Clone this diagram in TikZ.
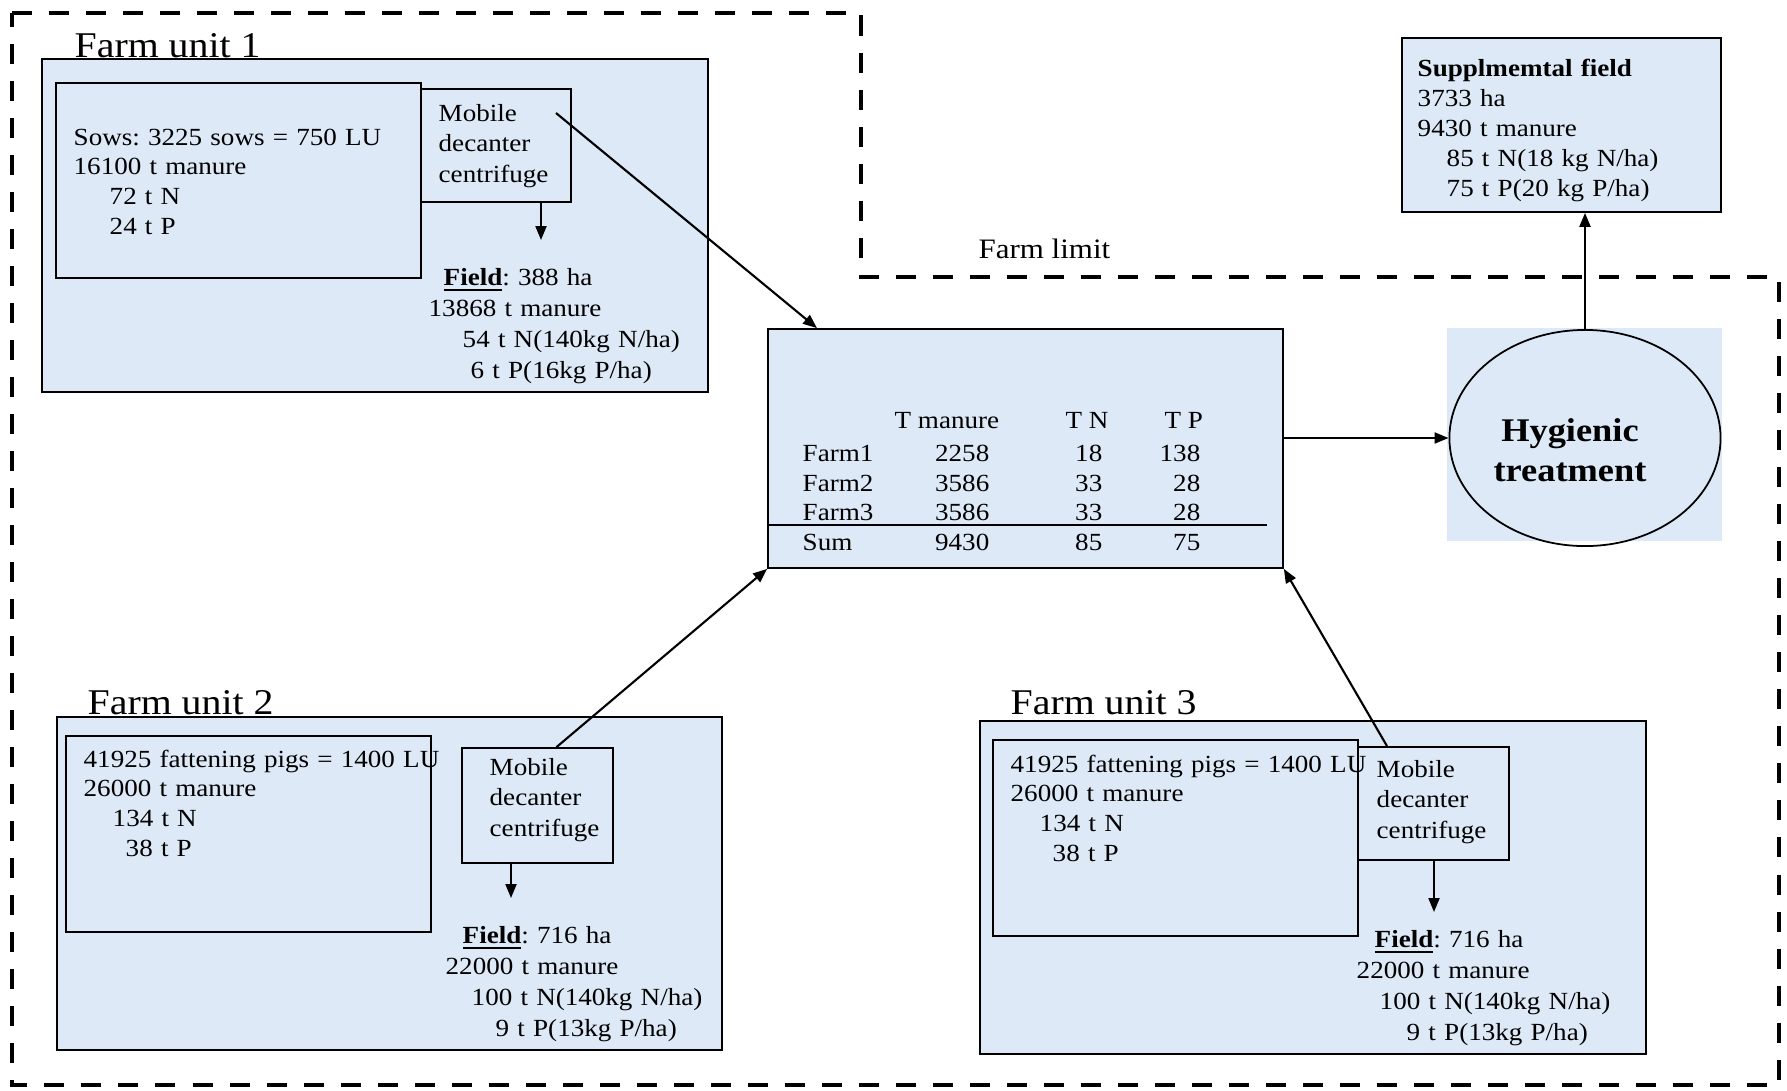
\documentclass[tikz,border=0pt]{standalone}
\usepackage{fontspec}
\setmainfont{Liberation Serif}[FakeStretch=1.1]
\usetikzlibrary{arrows.meta,positioning,fit,shapes.geometric}
\definecolor{farmblue}{RGB}{221,233,247}
\frenchspacing

\begin{document}
\begin{tikzpicture}[x=0.01cm, y=-0.01cm,
  box/.style={draw, line width=0.5pt, inner sep=0pt},
  farm/.style={box, fill=farmblue},
  txt/.style={anchor=base west, inner sep=0pt, align=left, text width=5cm, font=\fontsize{7}{8.5}\selectfont},
  fld/.style={txt, font=\fontsize{7}{8.9}\selectfont},
  mob/.style={txt, font=\fontsize{7}{8.7}\selectfont},
  cell/.style={inner sep=0pt, font=\fontsize{7}{8.5}\selectfont},
  title/.style={anchor=base west, inner sep=0pt, font=\fontsize{10.3}{12}\selectfont},
  arr/.style={-{Triangle[length=0.14cm, width=0.11cm]}, line width=0.6pt},
  limit/.style={line width=1.4pt, dash pattern=on 0.2cm off 0.17cm}]
\useasboundingbox (0,0) rectangle (1787,1090);

% farm limit
\draw[limit] (12,13) -- (861,13) -- (861,277) -- (1779,277) -- (1779,1085) -- (12,1085) -- cycle;
\node[anchor=base west, inner sep=0pt, font=\fontsize{8}{10}\selectfont] (flim) at (978,258) {Farm limit};

% farm unit 1
\node[farm, fit={(42,59) (708,392)}] (fu1) {};
\node[title] (t1) at (74,57) {Farm unit 1};
\node[box, fit={(56,83) (421,278)}] (in1) {};
\node[box, fit={(421,89) (571,202)}] (mob1) {};
\node[txt] (anim1) at (73,145) {Sows: 3225 sows = 750 LU\\ 16100 t manure\\ \hspace*{0.36cm}72 t N\\ \hspace*{0.36cm}24 t P};
\node[mob] (mtx1) at (438,121) {Mobile\\ decanter\\ centrifuge};
\node[fld] (fld1) at (428,285) {\hspace*{0.15cm}\underline{\textbf{Field}}: 388 ha\\ 13868 t manure\\ \hspace*{0.34cm}54 t N(140kg N/ha)\\ \hspace*{0.42cm}6 t P(16kg P/ha)};

% farm unit 2
\node[farm, fit={(57,717) (722,1050)}] (fu2) {};
\node[title] (t2) at (87,714) {Farm unit 2};
\node[box, fit={(66,736) (431,932)}] (in2) {};
\node[box, fit={(462,748) (613,863)}] (mob2) {};
\node[txt] (anim2) at (83,767) {41925 fattening pigs = 1400 LU\\ 26000 t manure\\ \hspace*{0.29cm}134 t N\\ \hspace*{0.42cm}38 t P};
\node[mob] (mtx2) at (489,775) {Mobile\\ decanter\\ centrifuge};
\node[fld] (fld2) at (445,943) {\hspace*{0.17cm}\underline{\textbf{Field}}: 716 ha\\ 22000 t manure\\ \hspace*{0.26cm}100 t N(140kg N/ha)\\ \hspace*{0.5cm}9 t P(13kg P/ha)};

% farm unit 3
\node[farm, fit={(980,721) (1646,1054)}] (fu3) {};
\node[title] (t3) at (1010,714) {Farm unit 3};
\node[box, fit={(993,740) (1358,936)}] (in3) {};
\node[box, fit={(1358,747) (1509,860)}] (mob3) {};
\node[txt] (anim3) at (1010,772) {41925 fattening pigs = 1400 LU\\ 26000 t manure\\ \hspace*{0.29cm}134 t N\\ \hspace*{0.42cm}38 t P};
\node[mob] (mtx3) at (1376,777) {Mobile\\ decanter\\ centrifuge};
\node[fld] (fld3) at (1356,947) {\hspace*{0.18cm}\underline{\textbf{Field}}: 716 ha\\ 22000 t manure\\ \hspace*{0.23cm}100 t N(140kg N/ha)\\ \hspace*{0.5cm}9 t P(13kg P/ha)};

% table
\node[farm, fit={(768,329) (1283,568)}] (tab) {};
\node[cell, anchor=base west] (hman) at (894,428) {T manure};
\node[cell, anchor=base west] (hn) at (1065,428) {T N};
\node[cell, anchor=base west] (hp) at (1164,428) {T P};
\foreach \i/\lab/\m/\n/\p/\yy in {1/Farm1/2258/18/138/461, 2/Farm2/3586/33/28/491, 3/Farm3/3586/33/28/520, 4/Sum/9430/85/75/550}{
  \node[cell, anchor=base west] (lab\i) at (802,\yy) {\lab};
  \node[cell, anchor=base east] (man\i) at (990,\yy) {\m};
  \node[cell, anchor=base east] (n\i) at (1103,\yy) {\n};
  \node[cell, anchor=base east] (p\i) at (1201,\yy) {\p};
}
\coordinate (rulend) at (1267,525);
\draw[line width=0.5pt] (tab.west |- rulend) -- (rulend);

% hygienic treatment
\node[fill=farmblue, inner sep=0pt, fit={(1447,328) (1722,541)}] (hygbg) {};
\node[draw, ellipse, line width=0.5pt, minimum width=2.71cm, minimum height=2.16cm, inner sep=0pt] (hyg) at (1585,438) {};
\node[anchor=base, inner sep=0pt, text width=3cm, align=center, font=\fontsize{9.4}{11.4}\selectfont\bfseries] (hygtxt) at (1570,441) {Hygienic\\ treatment};

% supplemental field
\node[farm, fit={(1402,38) (1721,212)}] (sup) {};
\node[txt, font=\fontsize{7}{8.6}\selectfont] (suptxt) at (1417,76) {\textbf{Supplmemtal field}\\ 3733 ha\\ 9430 t manure\\ \hspace*{0.29cm}85 t N(18 kg N/ha)\\ \hspace*{0.29cm}75 t P(20 kg P/ha)};

% arrows
\coordinate (mo1) at (556,113);
\coordinate (fd1) at (541,240);
\coordinate (fd2) at (511,898);
\coordinate (fd3) at (1434,912);
\draw[arr] (fd1 |- mob1.south) -- (fd1);
\draw[arr] (fd2 |- mob2.south) -- (fd2);
\draw[arr] (fd3 |- mob3.south) -- (fd3);
\draw[arr] (mo1) -- (tab.150.6);
\draw[arr] (mob2.72) -- (tab.south west);
\draw[arr] (mob3.129) -- (tab.south east);
\draw[arr] (tab.east |- hyg.west) -- (hyg.west);
\draw[arr] (hyg.north) -- (hyg.north |- sup.south);
\end{tikzpicture}
\end{document}
